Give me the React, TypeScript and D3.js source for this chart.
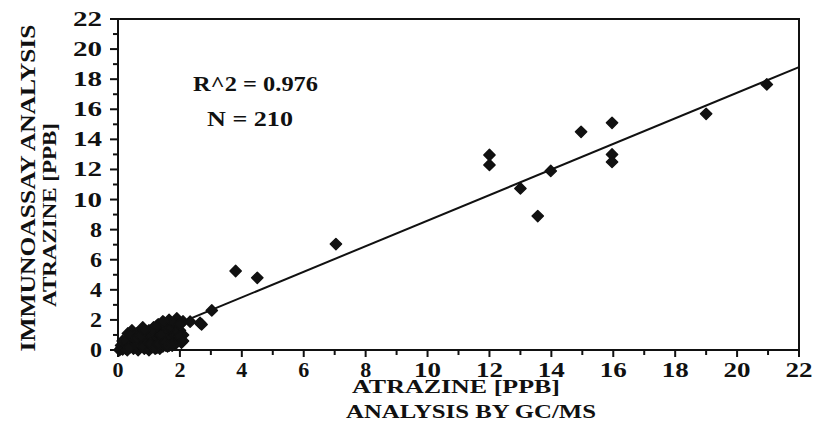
import React from "react";
import * as d3 from "d3";

// GC/MS (x) vs Immunoassay (y) atrazine, ppb
const clusterX = [0.05,0.1,0.1,0.15,0.2,0.2,0.25,0.3,0.3,0.32,0.35,0.4,0.4,0.45,0.45,0.5,0.5,0.55,0.6,0.6,0.65,0.65,0.7,0.7,0.75,0.75,0.8,0.8,0.85,0.85,0.9,0.9,0.95,1.0,1.0,1.0,1.05,1.1,1.1,1.15,1.15,1.2,1.2,1.25,1.3,1.3,1.35,1.35,1.4,1.4,1.45,1.5,1.5,1.55,1.55,1.6,1.6,1.65,1.7,1.7,1.75,1.8,1.8,1.85,1.9,1.9,1.95,2.0,2.05,2.1,2.1,0.15,0.55,0.95,1.25,1.45,1.65,1.85,
  0.25,0.35,0.5,0.6,0.7,0.8,0.9,1.0,1.05,1.1,1.2,1.3,1.4,1.5,1.55,1.6,1.7,1.75,1.8,1.9,2.0,2.0,2.1,0.4,0.6,0.75,1.25,1.45,0.85];
const clusterY = [0.0,0.1,0.3,0.05,0.2,0.4,0.1,0.3,0.0,1.1,0.5,0.2,0.7,1.3,0.4,0.1,0.6,0.9,0.3,0.5,0.0,1.0,0.7,0.2,1.2,0.45,1.5,0.8,0.1,0.6,1.1,0.35,0.9,0.5,1.3,0.0,0.75,1.0,0.2,1.5,0.6,0.9,0.35,1.2,0.7,1.7,0.1,1.0,1.4,0.5,0.8,1.2,1.8,0.3,1.0,1.5,0.6,2.0,1.2,0.8,1.7,0.5,1.4,1.0,2.1,1.6,0.7,1.3,0.5,1.9,1.0,0.6,0.3,0.2,0.15,0.25,0.3,0.4,
  0.6,0.15,0.85,1.1,0.45,0.25,0.7,1.0,0.4,1.3,0.1,0.4,1.0,0.5,1.5,0.25,1.5,0.3,1.8,1.2,0.9,1.7,0.6,1.0,0.8,0.9,1.6,1.9,1.3];
const outlierX = [2.33,2.65,2.7,3.03,3.8,4.5,7.04,12.0,12.0,13.0,13.56,13.98,14.96,15.96,15.96,15.96,19.0,20.96];
const outlierY = [1.88,1.8,1.7,2.63,5.25,4.8,7.04,12.96,12.3,10.74,8.9,11.9,14.5,15.1,13.0,12.5,15.7,17.65];
const fitX = [0, 22];
const fitY = [0.1, 18.8];
const tickValues = [0,2,4,6,8,10,12,14,16,18,20,22];
const minorValues = d3.range(0, 23, 1);

const W = 814, H = 440;
const x = d3.scaleLinear().domain([0, 22]).range([118, 799]);
const y = d3.scaleLinear().domain([0, 22]).range([350, 19]);

const FONT = "'Times New Roman', 'Liberation Serif', Times, serif";

export default function App() {
  const pts = [
    ...clusterX.map((v, i) => [v, clusterY[i]]),
    ...outlierX.map((v, i) => [v, outlierY[i]]),
  ];
  const marker = d3.symbol().type(d3.symbolSquare).size(64)();
  const line = d3.line<number>().x((d) => x(fitX[d])).y((d) => y(fitY[d]));
  const txt = (s: string, cx: number, cy: number, size: number, len: number, anchor = "middle", rot = 0) => (
    <text
      key={s + cx + cy}
      transform={`translate(${cx},${cy}) rotate(${rot})`}
      textAnchor={anchor}
      style={{ fontFamily: FONT, fontWeight: 700, fontSize: size }}
      textLength={len}
      lengthAdjust="spacingAndGlyphs"
      fill="#111"
    >
      {s}
    </text>
  );
  return (
    <svg width={W} height={H} style={{ position: "absolute", left: 0, top: 0, background: "#fff" }}>
      <rect width={W} height={H} fill="#fff" />
      {/* frame */}
      <path d={`M${x(0)},${y(0)} V${y(22)} H${x(22)} V${y(0)} Z`} fill="none" stroke="#111" strokeWidth={2} />
      {/* x ticks */}
      {minorValues.map((v) => (
        <line key={"xt" + v} x1={x(v)} x2={x(v)} y1={y(0)} y2={y(0) + (v % 2 === 0 ? 7 : 5)} stroke="#111" strokeWidth={2} />
      ))}
      {/* y ticks */}
      {minorValues.map((v) => (
        <line key={"yt" + v} x1={x(0)} x2={x(0) - (v % 2 === 0 ? 8 : 5)} y1={y(v)} y2={y(v)} stroke="#111" strokeWidth={2} />
      ))}
      {/* x tick labels */}
      {tickValues.map((v) =>
        txt(String(v), x(v), 377, 21, String(v).length > 1 ? 27 : 11)
      )}
      {/* y tick labels */}
      {tickValues.map((v) =>
        txt(String(v), 102, y(v) + 7, 22, String(v).length > 1 ? 29 : 12, "end")
      )}
      {/* fit line */}
      <path d={line([0, 1]) || ""} fill="none" stroke="#111" strokeWidth={2} />
      {/* points */}
      {pts.map((p, i) => (
        <path
          key={"p" + i}
          d={marker}
          transform={`translate(${x(p[0])},${y(p[1])}) rotate(45)`}
          fill="#111"
          stroke="#111"
          strokeWidth={1.4}
          strokeLinejoin="round"
        />
      ))}
      {/* annotations */}
      {txt("R^2  =  0.976", 193, 91, 20, 125, "start")}
      {txt("N  =  210", 207, 126, 20, 86, "start")}
      {/* axis titles */}
      {txt("ATRAZINE [PPB]", 456, 393, 18, 208)}
      {txt("ANALYSIS  BY  GC/MS", 471, 418, 18, 250)}
      {txt("IMMUNOASSAY   ANALYSIS", 35, 188, 21, 327, "middle", -90)}
      {txt("ATRAZINE [PPB]", 56, 215, 18, 184, "middle", -90)}
    </svg>
  );
}
